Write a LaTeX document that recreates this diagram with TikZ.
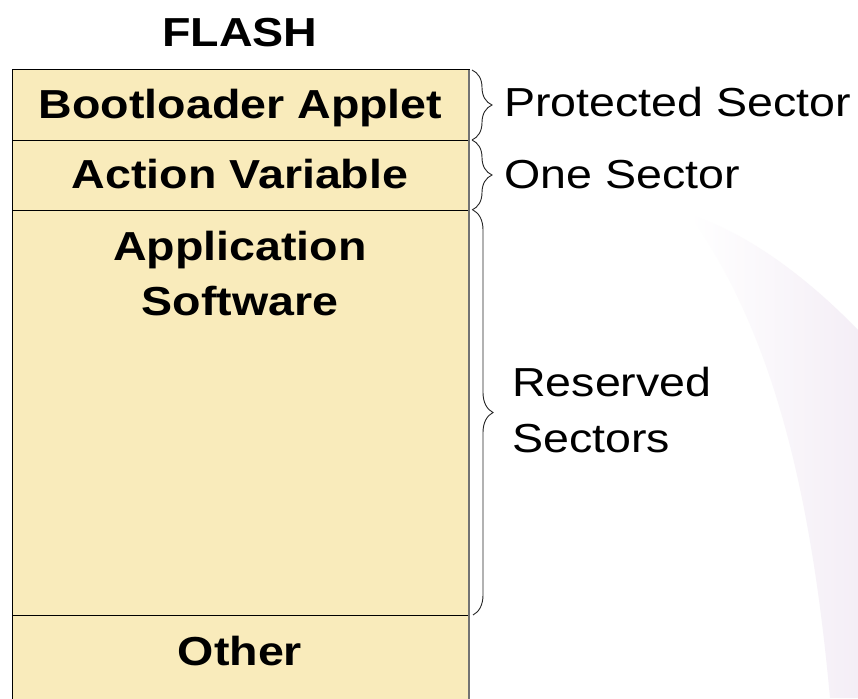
\documentclass[tikz,border=0pt]{standalone}
\usepackage{fontspec}
\setmainfont{Liberation Sans}[FakeStretch=1.15]
\usetikzlibrary{decorations.pathreplacing}
\definecolor{boxfill}{RGB}{249,235,187}
\definecolor{swoosh}{RGB}{244,238,246}
\begin{document}
\begin{tikzpicture}[x=1pt,y=-1pt,
  rowbox/.style={draw=black, line width=1pt, fill=boxfill, minimum width=457pt, inner sep=0pt, outer sep=0pt, anchor=north west},
  lbl/.style={anchor=base, inner sep=0pt, font=\fontsize{40.5}{55}\selectfont\bfseries},
  side/.style={anchor=base west, inner xsep=0pt, inner ysep=2pt, fill=white, font=\fontsize{40.5}{55}\selectfont},
  brc/.style={decorate, decoration={brace, amplitude=20pt}, draw=black!85, line width=0.9pt}]
\useasboundingbox (0,0) rectangle (858,698);
\clip (0,0) rectangle (858,698);
\fill[white] (0,0) rectangle (858,698);
% faint slide background
\shade[left color=white, right color=swoosh] (690,215) .. controls (770,330) and (810,480) .. (830,698) -- (858,698) -- (858,330) .. controls (800,270) and (740,230) .. (690,215) -- cycle;
% rows
\node[rowbox, minimum height=70pt] (boot) at (12,70) {};
\node[rowbox, minimum height=70pt] (act) at (12,140) {};
\node[rowbox, minimum height=405pt] (app) at (12,210) {};
\node[rowbox, minimum height=110pt] (oth) at (12,615) {};
\draw[draw=black!55, line width=2pt] (boot.north east) -- (oth.south east);
% labels
\node[lbl] (flash) at (240,47) {FLASH};
\node[lbl] (bootT) at (240.5,118) {Bootloader Applet};
\node[lbl] (actT) at (240,188) {Action Variable};
\node[lbl] (appT1) at (240,260) {Application};
\node[lbl] (appT2) at (240,315) {Software};
\node[lbl] (othT) at (240,665) {Other};
% braces
\draw[brc] ([xshift=3pt]boot.north east) -- ([xshift=3pt]boot.south east);
\draw[brc] ([xshift=3pt]act.north east) -- ([xshift=3pt]act.south east);
\draw[brc] ([xshift=4pt]app.north east) -- ([xshift=4pt]app.south east);
% side labels
\node[side] (prot) at (504,117) {Protected Sector};
\node[side] (one) at (504,188) {One Sector};
\node[side] (res1) at (512,396) {Reserved};
\node[side] (res2) at (512,452) {Sectors};
\end{tikzpicture}
\end{document}
